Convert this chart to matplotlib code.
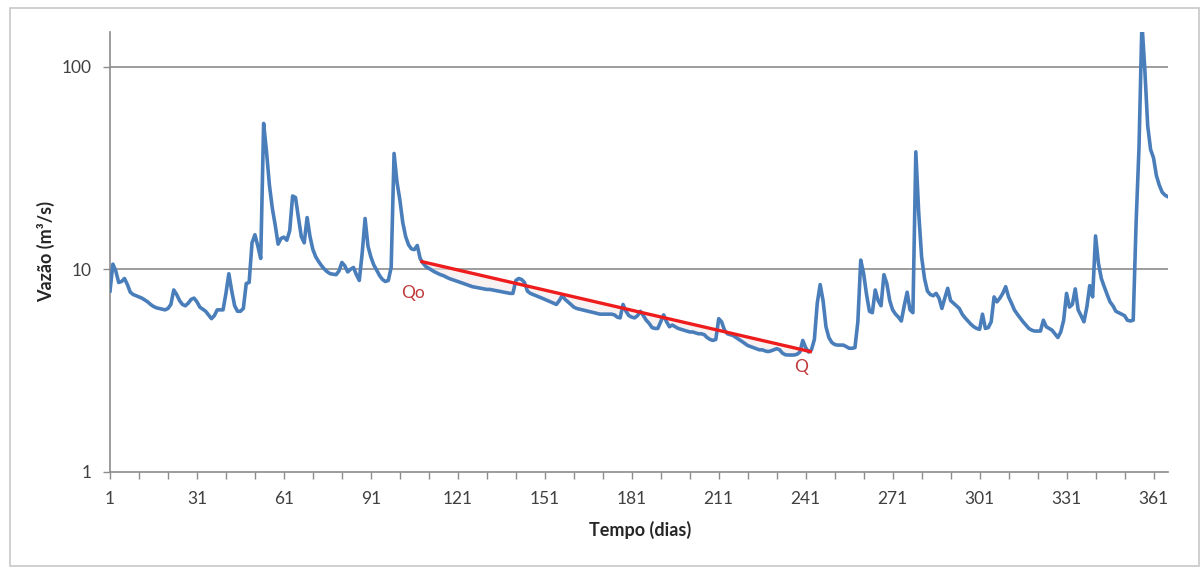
import numpy as np
import matplotlib
matplotlib.use("Agg")
import matplotlib.pyplot as plt
from matplotlib.patches import Rectangle
from matplotlib.ticker import FixedLocator, NullLocator

plt.rcParams['font.family'] = ['Lato', 'DejaVu Sans']

# ---- data (daily discharge, m3/s) ----
vazao = [
    7.8, 10.6, 9.8, 8.6, 8.7, 9.0, 8.4, 7.7, 7.5, 7.4,
    7.3, 7.2, 7.05, 6.9, 6.7, 6.55, 6.45, 6.4, 6.35, 6.3,
    6.4, 6.7, 7.9, 7.5, 7.0, 6.7, 6.6, 6.8, 7.1, 7.2,
    6.9, 6.5, 6.35, 6.2, 5.95, 5.7, 5.9, 6.3, 6.3, 6.3,
    7.6, 9.5, 7.8, 6.6, 6.2, 6.2, 6.4, 8.5, 8.6, 13.5,
    14.8, 13.0, 11.3, 52.5, 38.0, 26.0, 20.0, 16.5, 13.3, 14.2,
    14.4, 13.9, 15.5, 23.0, 22.6, 18.0, 14.5, 13.5, 18.0, 14.5,
    12.5, 11.5, 10.9, 10.4, 10.0, 9.7, 9.5, 9.45, 9.4, 9.8,
    10.8, 10.4, 9.7, 10.0, 10.2, 9.4, 8.8, 12.0, 17.8, 13.0,
    11.5, 10.5, 9.9, 9.3, 8.9, 8.7, 8.8, 10.2, 37.3, 27.0,
    22.0, 17.0, 14.5, 13.2, 12.6, 12.5, 13.1, 11.3, 10.7, 10.3,
    10.1, 9.9, 9.7, 9.55, 9.4, 9.3, 9.15, 9.0, 8.9, 8.8,
    8.7, 8.6, 8.5, 8.4, 8.3, 8.2, 8.15, 8.1, 8.05, 8.0,
    7.95, 7.95, 7.9, 7.85, 7.8, 7.75, 7.7, 7.65, 7.6, 7.6,
    8.8, 9.0, 8.9, 8.6, 7.8, 7.6, 7.5, 7.4, 7.3, 7.2,
    7.1, 7.0, 6.9, 6.8, 6.7, 7.0, 7.4, 7.1, 6.9, 6.7,
    6.5, 6.4, 6.35, 6.3, 6.25, 6.2, 6.15, 6.1, 6.05, 6.0,
    6.0, 6.0, 6.0, 6.0, 5.95, 5.8, 5.75, 6.7, 6.2, 5.9,
    5.8, 5.75, 5.9, 6.2, 5.9, 5.6, 5.4, 5.15, 5.1, 5.1,
    5.5, 5.95, 5.5, 5.2, 5.3, 5.2, 5.1, 5.05, 5.0, 4.95,
    4.9, 4.9, 4.85, 4.8, 4.8, 4.75, 4.6, 4.5, 4.45, 4.5,
    5.7, 5.5, 5.0, 4.8, 4.75, 4.7, 4.6, 4.5, 4.4, 4.3,
    4.2, 4.15, 4.1, 4.05, 4.0, 4.0, 3.95, 3.92, 3.95, 4.0,
    4.05, 4.0, 3.85, 3.78, 3.77, 3.77, 3.77, 3.8, 3.9, 4.45,
    4.1, 3.9, 4.0, 4.5, 6.8, 8.4, 7.0, 5.2, 4.6, 4.35,
    4.25, 4.22, 4.22, 4.22, 4.15, 4.07, 4.07, 4.1, 5.5, 11.1,
    9.5, 7.5, 6.2, 6.1, 7.9, 7.0, 6.6, 9.4, 8.5, 7.0,
    6.3, 6.0, 5.8, 5.55, 6.6, 7.7, 6.3, 6.1, 38.0, 19.0,
    11.5, 9.0, 7.8, 7.5, 7.4, 7.6, 7.2, 6.4, 7.2, 8.05,
    7.0, 6.8, 6.6, 6.4, 6.0, 5.75, 5.55, 5.35, 5.2, 5.1,
    5.05, 6.0, 5.1, 5.15, 5.5, 7.3, 6.9, 7.2, 7.6, 8.2,
    7.3, 6.8, 6.3, 6.0, 5.75, 5.5, 5.3, 5.1, 5.0, 4.95,
    4.95, 4.95, 5.6, 5.2, 5.1, 5.0, 4.8, 4.6, 4.9, 5.6,
    7.6, 6.5, 6.7, 8.0, 6.3, 5.9, 5.5, 6.5, 8.3, 7.3,
    14.6, 10.7, 9.0, 8.2, 7.5, 6.9, 6.6, 6.2, 6.1, 6.0,
    5.9, 5.6, 5.55, 5.6, 17.0, 40.0, 165.0, 97.0, 51.0, 39.0,
    35.5, 29.0, 26.0, 24.0, 23.2, 22.8,
]
dias = list(range(1, len(vazao) + 1))

# recession line (Qo -> Q)
reta_dias = [108.6, 242.6]
reta_vazao = [10.9, 3.92]

x_ticks = list(range(1, 367, 10))
x_labels = [str(d) if (d - 1) % 30 == 0 else '' for d in x_ticks]
y_ticks = [1, 10, 100]
y_labels = ['1', '10', '100']

# ---- figure ----
W, H = 1202, 567
fig = plt.figure(figsize=(W / 100, H / 100), dpi=100)
fig.patch.set_facecolor('white')

L, R, T, B = 110, 1168, 31.7, 471.7
ax = fig.add_axes([L / W, 1 - B / H, (R - L) / W, (B - T) / H])

# chart border
fig.patches.append(Rectangle((10.5 / W, 1 - 566 / H), (1199 - 10.5) / W, (566 - 7.5) / H,
                             transform=fig.transFigure, fill=False,
                             edgecolor='#c8c8c8', linewidth=1.2))

ax.set_yscale('log')
ax.set_ylim(1, 149)
ax.set_xlim(1, 366)

# gridlines
for yv in [10, 100]:
    ax.axhline(yv, color='#8c8c8c', linewidth=1.2, zorder=1)

d = np.array(dias, dtype=float)
v = np.array(vazao, dtype=float)

# faint shading between recession line and hydrograph
mask = (d >= reta_dias[0]) & (d <= reta_dias[1])
reta_interp = np.exp(np.interp(d[mask], reta_dias, np.log(reta_vazao)))
ax.fill_between(d[mask], v[mask], reta_interp, color='#f4e8e8', alpha=0.6,
                linewidth=0, zorder=2)

ax.plot(d, v, color='#4a7ebb', linewidth=2.6, solid_joinstyle='round', zorder=3)
ax.plot(reta_dias, reta_vazao, color='#ee1c1c', linewidth=2.4, zorder=4)

ax.text(105.6, 7.63, 'Qo', color='#c0393b', fontsize=12.5, ha='center', va='center', zorder=5)
ax.text(239.5, 3.29, 'Q', color='#c0393b', fontsize=12.5, ha='center', va='center', zorder=5)

# axes style
for s in ['top', 'right']:
    ax.spines[s].set_visible(False)
for s in ['left', 'bottom']:
    ax.spines[s].set_color('#8c8c8c')
    ax.spines[s].set_linewidth(1.2)

ax.yaxis.set_major_locator(FixedLocator(y_ticks))
ax.yaxis.set_minor_locator(NullLocator())
ax.set_yticklabels(y_labels)
ax.set_xticks(x_ticks)
ax.set_xticklabels(x_labels)
ax.tick_params(axis='both', colors='#8c8c8c', labelcolor='#404040', labelsize=12.5,
               length=5, width=1.0, direction='out')
ax.tick_params(axis='y', pad=8)
ax.tick_params(axis='x', pad=9)

fig.text(640 / W, 1 - 530 / H, 'Tempo (dias)', fontsize=13, fontweight='bold',
         ha='center', va='center', color='#262626')
fig.text(46 / W, 1 - 251 / H, 'Vazão (m³/s)', fontsize=13, fontweight='bold',
         ha='center', va='center', rotation=90, color='#262626')

fig.savefig('out.png', dpi=100, facecolor='white')
